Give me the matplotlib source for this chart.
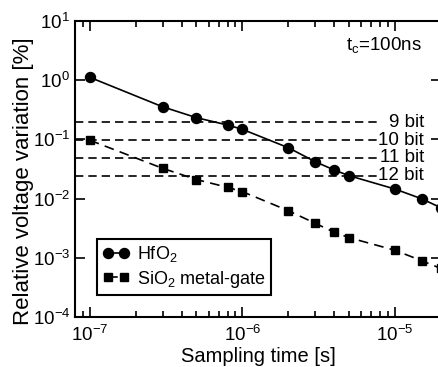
import matplotlib
matplotlib.use("Agg")
import matplotlib.pyplot as plt

INK = "black"
plt.rcParams.update({"font.family": "Liberation Sans", "font.size": 13,
                     "lines.scale_dashes": False,
                     "axes.linewidth": 1.5})

# sampling time [s]
t_s = [1e-7, 3e-7, 5e-7, 8e-7, 1e-6, 2e-6, 3e-6, 4e-6, 5e-6, 1e-5, 1.5e-5, 2e-5]
# relative voltage variation [%]
hfo2 = [1.12, 0.356, 0.233, 0.175, 0.148, 0.0724, 0.042, 0.0304, 0.0244,
        0.0145, 0.0099, 0.0070]
sio2 = [0.097, 0.0325, 0.021, 0.0155, 0.0131, 0.00625, 0.00383, 0.0027,
        0.00219, 0.00134, 0.00089, 0.00066]
series_labels = ["HfO$_\\mathregular{2}$", "SiO$_\\mathregular{2}$ metal-gate"]

# ADC resolution levels
bits = [9, 10, 11, 12]
bit_levels = [100 / 2 ** b for b in bits]

fig = plt.figure(figsize=(4.39, 3.67), dpi=100)
ax = fig.add_axes([0.1708, 0.1362, 0.8337, 0.8065])

dash = (0, (6.0, 3.6))
for b, lvl in zip(bits, bit_levels):
    ax.plot([8e-8, 7.7e-6], [lvl, lvl], color=INK, lw=1.2, ls=dash, zorder=1)
    ax.text(1.55e-5, lvl, f"{b} bit", ha="right", va="center", fontsize=13.5)

ax.plot(t_s, hfo2, "-o", color=INK, lw=1.2, ms=7.2, label=series_labels[0],
        zorder=3, clip_on=False)
ax.plot(t_s, sio2, color=INK, marker="s", lw=1.2, ls=(0, (7.0, 4.5)), ms=6.3,
        label=series_labels[1], zorder=3, clip_on=False)

ax.text(0.74, 0.915, "t$_\\mathregular{c}$=100ns", transform=ax.transAxes,
        fontsize=13.5, va="center")

ax.set_xscale("log")
ax.set_yscale("log")
ax.set_xlim(8e-8, 2e-5)
ax.set_ylim(1e-4, 1e1)
ax.set_xlabel("Sampling time [s]", fontsize=14.5)
ax.set_ylabel("Relative voltage variation [%]", fontsize=16)
ax.xaxis.set_label_coords(0.5, -0.1)
ax.yaxis.set_label_coords(-0.112, 0.46)

ax.tick_params(which="both", direction="in", top=True, right=True,
               width=1.2, labelsize=13.5)
ax.tick_params(which="major", length=7)
ax.tick_params(which="minor", length=4)
ax.tick_params(axis="y", which="minor", left=False, right=False)
ax.tick_params(axis="x", which="major", pad=6)

leg = ax.legend(loc="lower left", bbox_to_anchor=(0.06, 0.074),
                borderaxespad=0, fancybox=False, framealpha=1,
                edgecolor=INK, numpoints=2, handlelength=1.5,
                handletextpad=0.4, borderpad=0.3, labelspacing=0.25,
                fontsize=13)
leg.get_frame().set_linewidth(1.5)

fig.savefig("out.png", dpi=100)
